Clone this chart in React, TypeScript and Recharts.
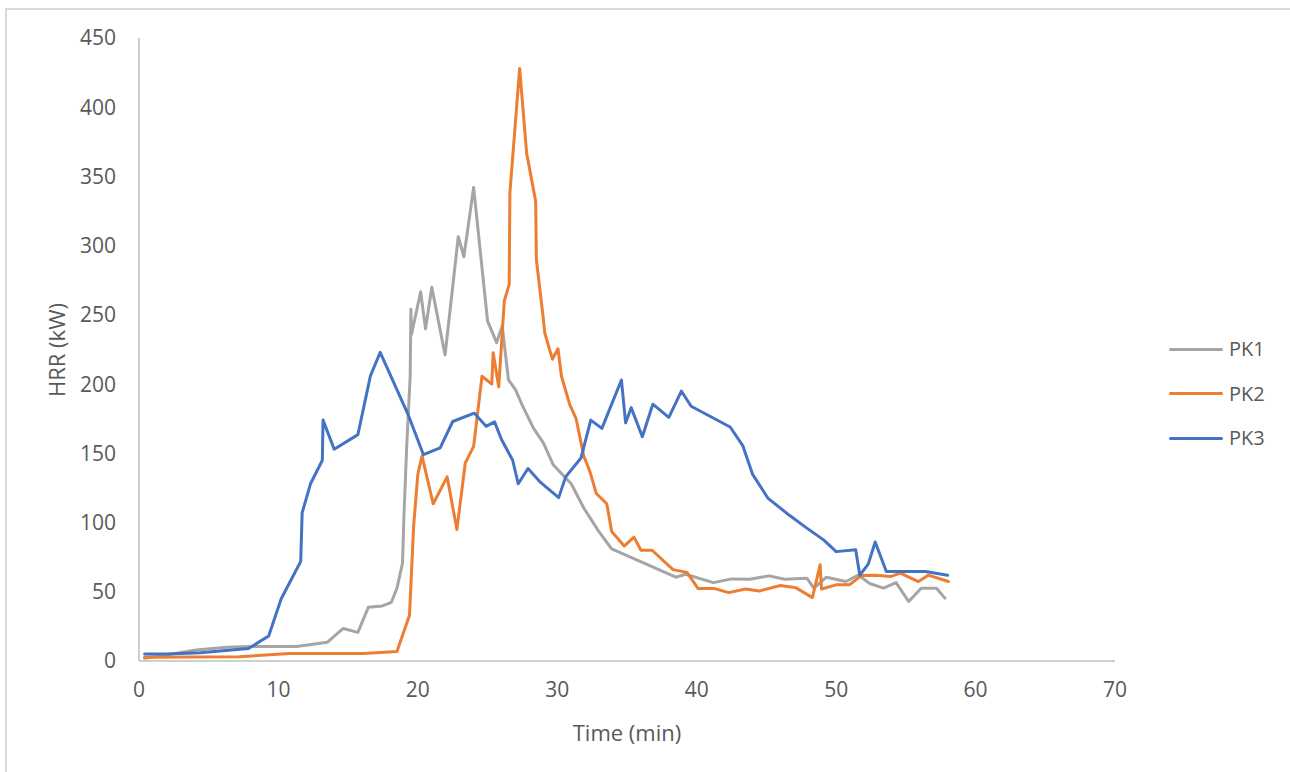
import { LineChart, Line, XAxis, YAxis, Label } from "recharts";

// Time (min), HRR (kW) pairs
const pk1Time = [0.4, 1.7, 4.1, 6.3, 8.0, 11.3, 13.5, 14.65, 15.7, 16.45, 17.45, 18.1, 18.5, 18.9, 19.0, 19.2, 19.45, 19.5, 19.55, 20.2, 20.55, 21.0, 21.95, 22.9, 23.3, 24.0, 25.0, 25.65, 26.05, 26.5, 27.0, 27.5, 28.3, 29.0, 29.7, 31.0, 31.9, 32.95, 33.9, 38.5, 39.2, 41.2, 42.5, 43.8, 45.2, 46.3, 47.9, 48.4, 49.3, 50.7, 51.6, 52.4, 53.4, 54.3, 55.2, 56.1, 57.2, 57.8];
const pk1Hrr = [2, 4, 8, 10, 10.4, 10.4, 13.5, 23.5, 20.7, 38.8, 39.8, 42.4, 52.6, 70.7, 104, 155, 206, 254, 236, 266.7, 240, 270, 221, 306.5, 292, 342, 245.5, 230, 242, 203, 196, 184.5, 168, 157.5, 141.8, 128, 110.5, 94, 81, 60.5, 62.7, 56.6, 59.3, 59, 61.5, 59, 59.8, 52.6, 60.5, 57.4, 62, 56, 52.6, 56.6, 43, 52.6, 52.6, 45.4];

const pk2Time = [0.4, 7.2, 10.8, 16.1, 18.5, 19.4, 19.7, 20.0, 20.3, 21.1, 22.1, 22.8, 23.4, 24.0, 24.6, 25.3, 25.4, 25.8, 26.2, 26.55, 26.6, 27.3, 27.8, 28.45, 28.5, 29.0, 29.1, 29.65, 30.05, 30.3, 30.9, 31.35, 31.9, 32.3, 32.8, 33.55, 33.9, 34.8, 35.5, 36.0, 36.8, 38.3, 39.3, 40.1, 41.3, 42.3, 43.5, 44.5, 46.0, 47.1, 48.3, 48.85, 48.95, 50.0, 50.95, 51.8, 52.8, 53.9, 54.6, 55.9, 56.6, 58.05];
const pk2Hrr = [2.7, 3, 5.5, 5.5, 6.8, 33, 98, 135, 148, 113.6, 133, 95, 143, 155, 205.7, 200, 222.6, 198, 260, 272, 338, 428, 367, 332, 290, 247, 237, 218, 225.5, 205.7, 185, 175, 148, 138, 121, 113.6, 93.5, 83, 89.5, 80, 80, 66, 64, 52.3, 52.3, 49.4, 52, 50.6, 54.5, 53, 45.8, 69.5, 52, 55, 55, 61.7, 62, 61, 63.5, 57.4, 62, 57.4];

const pk3Time = [0.4, 2.0, 4.4, 7.85, 9.3, 10.2, 11.6, 11.7, 12.3, 13.15, 13.2, 14.0, 15.7, 16.6, 17.3, 19.3, 20.4, 21.6, 22.5, 24.05, 24.9, 25.5, 26.0, 26.8, 27.2, 27.9, 28.8, 30.1, 30.6, 31.7, 32.4, 33.2, 34.6, 34.9, 35.3, 36.1, 36.85, 38.0, 38.9, 39.6, 42.4, 43.3, 44.0, 45.1, 46.6, 47.9, 49.1, 50.0, 51.4, 51.7, 52.3, 52.8, 53.6, 56.4, 58.0];
const pk3Hrr = [5, 5, 6, 9, 18, 45, 72, 107, 128, 145, 174, 153, 163.5, 206, 223, 178, 149, 154, 173, 179, 169.5, 172.7, 160, 145, 128, 139, 129, 118, 133, 146.6, 174, 168, 203, 172, 183, 162, 185.5, 176, 195, 184, 169, 155.6, 135, 117.7, 105.6, 96, 87.5, 79, 80.3, 62, 70, 86, 64.6, 64.6, 62];

const xTicks = [0, 10, 20, 30, 40, 50, 60, 70];
const yTicks = [0, 50, 100, 150, 200, 250, 300, 350, 400, 450];

const series = [
  { name: "PK1", time: pk1Time, hrr: pk1Hrr, color: "#A5A5A5" },
  { name: "PK2", time: pk2Time, hrr: pk2Hrr, color: "#ED7D31" },
  { name: "PK3", time: pk3Time, hrr: pk3Hrr, color: "#4472C4" },
];

const FONT = "'Open Sans', 'Noto Sans', sans-serif";
const TEXT = "#595959";
const AXIS = "#BFBFBF";

export default function App() {
  return (
    <div
      style={{
        position: "absolute",
        left: 0,
        top: 0,
        width: 1290,
        height: 772,
        overflow: "hidden",
        background: "#fff",
        fontFamily: FONT,
      }}
    >
      {/* chart area frame, only left and top edges fall inside the picture */}
      <div
        style={{
          position: "absolute",
          left: 5,
          top: 8,
          width: 1320,
          height: 820,
          border: "2px solid #D9D9D9",
          pointerEvents: "none",
        }}
      />
      <div style={{ position: "absolute", left: 0, top: 0 }}>
        <LineChart
          width={1290}
          height={772}
          margin={{ top: 38, right: 175, bottom: 51, left: 59 }}
        >
          <XAxis
            type="number"
            dataKey="t"
            domain={[0, 70]}
            ticks={xTicks}
            height={60}
            tickLine={false}
            tickSize={0}
            tickMargin={21}
            axisLine={{ stroke: AXIS, strokeWidth: 1.5 }}
            tick={{ fontSize: 21, fill: TEXT, fontFamily: FONT }}
            allowDuplicatedCategory={false}
          >
            <Label
              content={() => (
                <text
                  x={627}
                  y={732}
                  textAnchor="middle"
                  dominantBaseline="central"
                  fontSize={22}
                  fill={TEXT}
                  fontFamily={FONT}
                >
                  Time (min)
                </text>
              )}
            />
          </XAxis>
          <YAxis
            type="number"
            domain={[0, 450]}
            ticks={yTicks}
            width={80}
            tickLine={false}
            tickSize={0}
            tickMargin={23}
            axisLine={{ stroke: AXIS, strokeWidth: 1.5 }}
            tick={{ fontSize: 21, fill: TEXT, fontFamily: FONT }}
          >
            <Label
              content={() => (
                <text
                  x={56}
                  y={350}
                  transform="rotate(-90 56 350)"
                  textAnchor="middle"
                  dominantBaseline="central"
                  fontSize={22}
                  fill={TEXT}
                  fontFamily={FONT}
                >
                  HRR (kW)
                </text>
              )}
            />
          </YAxis>
          {series.map((s) => (
            <Line
              key={s.name}
              data={s.time.map((t, i) => ({ t, v: s.hrr[i] }))}
              dataKey="v"
              name={s.name}
              type="linear"
              stroke={s.color}
              strokeWidth={3}
              strokeLinejoin="round"
              strokeLinecap="round"
              dot={false}
              activeDot={false}
              isAnimationActive={false}
            />
          ))}
        </LineChart>
      </div>

      {/* legend */}
      <div style={{ position: "absolute", left: 1169, top: 334 }}>
        {series.map((s) => (
          <div
            key={s.name}
            style={{ display: "flex", alignItems: "center", height: 30, marginBottom: 14.5 }}
          >
            <span
              style={{
                width: 54,
                height: 3,
                borderRadius: 2,
                background: s.color,
                marginRight: 6,
              }}
            />
            <span style={{ fontSize: 20, color: TEXT, lineHeight: "30px" }}>{s.name}</span>
          </div>
        ))}
      </div>
    </div>
  );
}
